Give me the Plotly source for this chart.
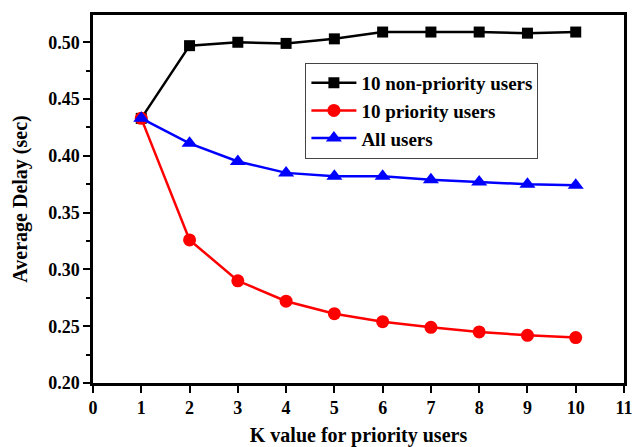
import plotly.graph_objects as go

k_values = [1, 2, 3, 4, 5, 6, 7, 8, 9, 10]
non_priority = [0.433, 0.497, 0.500, 0.499, 0.503, 0.509, 0.509, 0.509, 0.508, 0.509]
priority = [0.433, 0.326, 0.290, 0.272, 0.261, 0.254, 0.249, 0.245, 0.242, 0.240]
all_users = [0.433, 0.411, 0.395, 0.385, 0.382, 0.382, 0.379, 0.377, 0.375, 0.374]
x_ticks = list(range(0, 12))
y_ticks = [0.20, 0.25, 0.30, 0.35, 0.40, 0.45, 0.50]

FONT = "Liberation Serif"

fig = go.Figure()
fig.add_trace(go.Scatter(x=k_values, y=non_priority, mode="lines+markers", name="10 non-priority users",
                         line=dict(color="black", width=2.5),
                         marker=dict(symbol="square", size=11, color="black")))
fig.add_trace(go.Scatter(x=k_values, y=priority, mode="lines+markers", name="10 priority users",
                         line=dict(color="red", width=2.5),
                         marker=dict(symbol="circle", size=13, color="red")))
fig.add_trace(go.Scatter(x=k_values, y=all_users, mode="lines+markers", name="All users",
                         line=dict(color="blue", width=2.5),
                         marker=dict(symbol="triangle-up", size=14, color="blue")))

fig.update_layout(
    width=643, height=447,
    margin=dict(l=93, r=19, t=15, b=64),
    paper_bgcolor="white", plot_bgcolor="white",
    font=dict(family=FONT, size=17, color="black"),
    legend=dict(x=0.40, y=0.87, xanchor="left", yanchor="top",
                bordercolor="#444", borderwidth=1, bgcolor="white",
                font=dict(family=FONT, size=19, color="black", weight="bold"),
                tracegroupgap=0, itemwidth=45),
    xaxis=dict(range=[0, 11], tickvals=x_ticks, ticktext=[str(v) for v in x_ticks],
               automargin=False,
               showgrid=False, zeroline=False, showline=True, linecolor="black", linewidth=2.5,
               mirror=True, ticks="outside", ticklen=7, tickwidth=2, tickcolor="black",
               tickfont=dict(family=FONT, size=18, weight="bold"),
               title=dict(text="K value for priority users", standoff=14,
                          font=dict(family=FONT, size=20, weight="bold"))),
    yaxis=dict(range=[0.20, 0.524], tickvals=y_ticks, ticktext=[f"{v:.2f}" for v in y_ticks],
               automargin=False,
               showgrid=False, zeroline=False, showline=True, linecolor="black", linewidth=2.5,
               mirror=True, ticks="outside", ticklen=7, tickwidth=2, tickcolor="black",
               tickfont=dict(family=FONT, size=18, weight="bold"),
               minor=dict(dtick=0.025, tick0=0.2, ticks="outside", ticklen=4, tickwidth=1.5, tickcolor="black"),
               title=dict(text="Average Delay (sec)", standoff=16,
                          font=dict(family=FONT, size=20, weight="bold"))),
)

fig.write_html("out.html")
